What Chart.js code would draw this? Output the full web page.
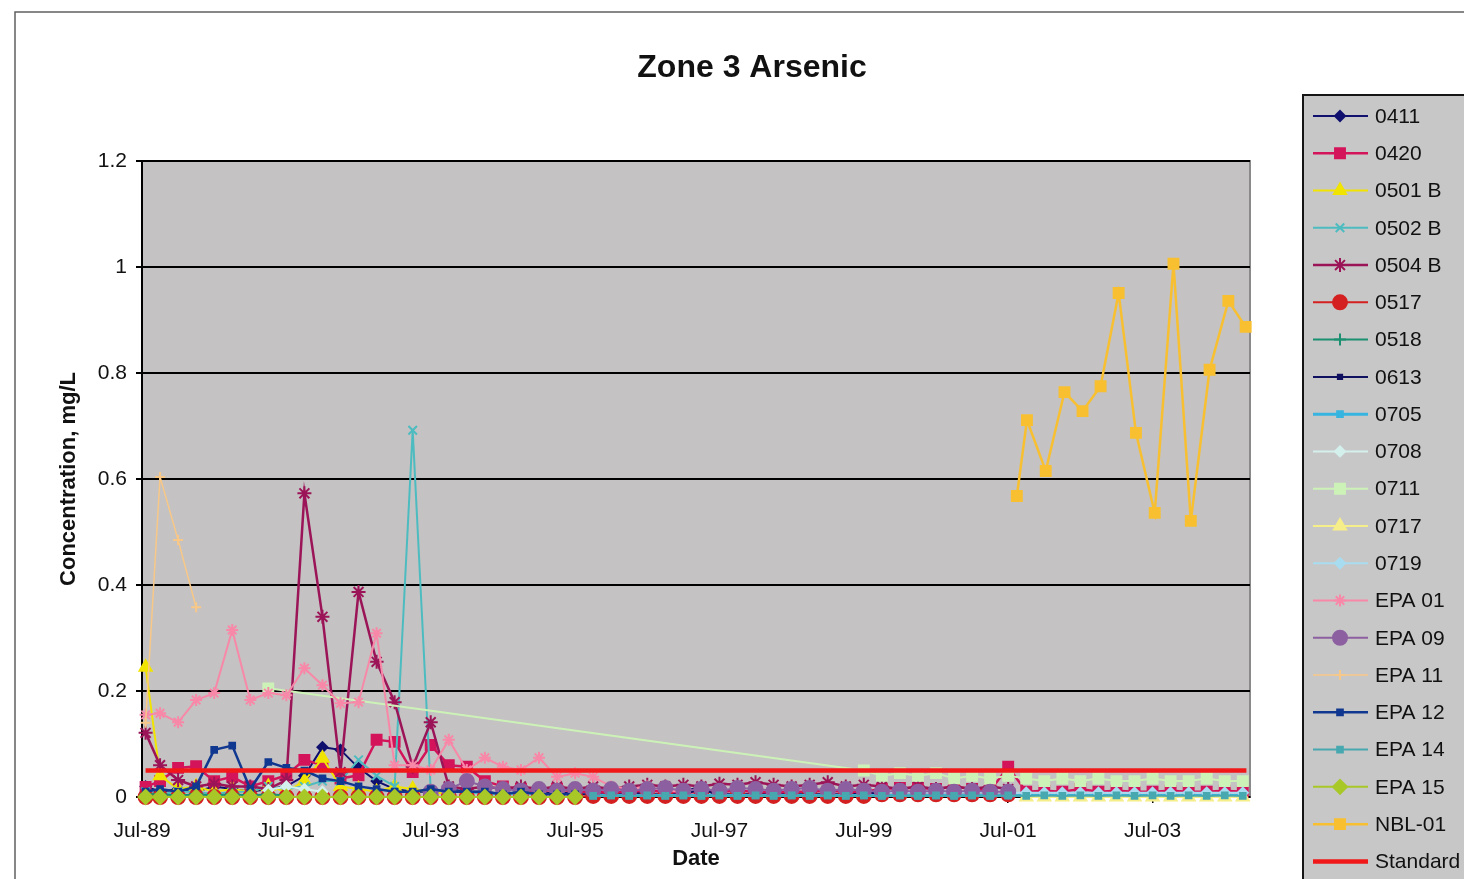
<!DOCTYPE html>
<html>
<head>
<meta charset="utf-8">
<title>Zone 3 Arsenic</title>
<script src="https://cdn.jsdelivr.net/npm/chart.js@4.4.1/dist/chart.umd.min.js"></script>
<style>
  html, body { margin: 0; padding: 0; background: #fff; overflow: hidden; }
  #wrap { position: relative; width: 1464px; height: 879px; }
</style>
</head>
<body>
<div id="wrap"><canvas id="myChart"></canvas></div>
<script>
// sample dates (decimal years)
const qEarly = [1989.55, 1989.75, 1990, 1990.25, 1990.5, 1990.75, 1991, 1991.25, 1991.5, 1991.75, 1992, 1992.25, 1992.5,
  1992.75, 1993, 1993.25, 1993.5, 1993.75, 1994, 1994.25, 1994.5, 1994.75, 1995, 1995.25, 1995.5];
const qLate = [1995.75, 1996, 1996.25, 1996.5, 1996.75, 1997, 1997.25, 1997.5, 1997.75, 1998, 1998.25, 1998.5,
  1998.75, 1999, 1999.25, 1999.5, 1999.75, 2000, 2000.25, 2000.5, 2000.75, 2001, 2001.25, 2001.5];
const qRecent = [2001.75, 2002, 2002.25, 2002.5, 2002.75, 2003, 2003.25, 2003.5, 2003.75, 2004, 2004.25, 2004.5, 2004.75];

// x tick positions and labels
const xTicks = [1989.5, 1991.5, 1993.5, 1995.5, 1997.5, 1999.5, 2001.5, 2003.5];
const xTickLabels = ['Jul-89', 'Jul-91', 'Jul-93', 'Jul-95', 'Jul-97', 'Jul-99', 'Jul-01', 'Jul-03'];
const yTicks = [0, 0.2, 0.4, 0.6, 0.8, 1, 1.2];

// concentrations, mg/L
const v0411 = [0.02, 0.01, 0.015, 0.01, 0.02, 0.015, 0.01, 0.015, 0.02, 0.04, 0.094, 0.089, 0.055, 0.03, 0.015, 0.01,
  0.01, 0.015, 0.01, 0.01, 0.005, 0.01, 0.005, 0.01, 0.005,
  0.005, 0.005, 0.01, 0.005, 0.005, 0.01, 0.02, 0.005, 0.005, 0.005, 0.01, 0.005, 0.005, 0.005, 0.005, 0.01,
  0.005, 0.005, 0.005, 0.005, 0.005, 0.01, 0.005, 0.005];
const v0420 = [0.019, 0.03, 0.055, 0.058, 0.03, 0.038, 0.02, 0.03, 0.041, 0.07, 0.06, 0.035, 0.041, 0.108, 0.104, 0.047,
  0.098, 0.06, 0.057, 0.03, 0.02, 0.015, 0.01, 0.015, 0.01,
  0.01, 0.008, 0.01, 0.012, 0.01, 0.008, 0.01, 0.01, 0.012, 0.01, 0.008, 0.01, 0.01, 0.012, 0.01, 0.01,
  0.015, 0.017, 0.017, 0.015, 0.02, 0.015, 0.012, 0.057,
  0.01, 0.012, 0.01, 0.015, 0.01, 0.012, 0.01, 0.01, 0.012, 0.01, 0.01, 0.012, 0.01];
const v0501B = [0.245, 0.04, 0.015, 0.02, 0.01, 0.015, 0.01, 0.02, 0.01, 0.03, 0.073, 0.02, 0.015, 0.01, 0.02, 0.015, 0.01, 0.005];
const v0502B = [0.01, 0.005, 0.01, 0.01, 0.005, 0.01, 0.01, 0.02, 0.015, 0.02, 0.03, 0.03, 0.07, 0.04, 0.02, 0.692,
  0.013, 0.01, 0.01, 0.005, 0.005, 0.005, 0.005, 0.005, 0.005];
const v0504B = [0.121, 0.06, 0.032, 0.02, 0.025, 0.02, 0.02, 0.015, 0.032, 0.573, 0.34, 0.047, 0.387, 0.255, 0.179, 0.057,
  0.141, 0.02, 0.015, 0.02, 0.015, 0.02, 0.015, 0.02, 0.015,
  0.02, 0.015, 0.02, 0.023, 0.02, 0.023, 0.02, 0.025, 0.023, 0.028, 0.023, 0.02, 0.023, 0.028, 0.02, 0.023,
  0.02, 0.015, 0.02, 0.015, 0.02, 0.015, 0.02, 0.015];
const v0517 = [0, 0, 0, 0, 0, 0, 0, 0, 0, 0, 0, 0, 0, 0, 0, 0, 0, 0, 0, 0, 0, 0, 0, 0, 0,
  0.002, 0.002, 0.002, 0.002, 0.002, 0.002, 0.002, 0.002, 0.002, 0.002, 0.002, 0.002, 0.002, 0.002, 0.002, 0.002,
  0.005, 0.005, 0.005, 0.005, 0.005, 0.005, 0.005, 0.005];
const v0518 = [0.005, 0.005, 0.003, 0.005, 0.003, 0.005, 0.003, 0.005, 0.003];
const v0613 = [0.003, 0.003, 0.005, 0.003, 0.003, 0.005, 0.015, 0.003, 0.003, 0.005, 0.003, 0.003, 0.005, 0.003, 0.003,
  0.005, 0.003, 0.003, 0.005, 0.003, 0.003, 0.005, 0.003, 0.003];
const v0705 = [0.003, 0.003, 0.003, 0.003, 0.003, 0.003, 0.003, 0.003, 0.003, 0.003, 0.003, 0.003, 0.003, 0.003, 0.003,
  0.003, 0.003, 0.003, 0.003, 0.003, 0.003, 0.003, 0.003, 0.003,
  0.003, 0.003, 0.003, 0.003, 0.003, 0.003, 0.003, 0.003, 0.003, 0.003, 0.003, 0.003, 0.003];
const d0708 = [1991.25, 1991.5, 1991.75, 1992];
const v0708 = [0.013, 0.02, 0.015, 0.01];
const d0711 = [1991.25, 1999.5, 1999.75, 2000, 2000.25, 2000.5, 2000.75, 2001, 2001.25, 2001.5, 2001.75, 2002, 2002.25,
  2002.5, 2002.75, 2003, 2003.25, 2003.5, 2003.75, 2004, 2004.25, 2004.5, 2004.75];
const v0711 = [0.205, 0.05, 0.04, 0.045, 0.04, 0.045, 0.035, 0.04, 0.035, 0.04, 0.035, 0.03, 0.035, 0.03, 0.035, 0.03,
  0.03, 0.035, 0.03, 0.03, 0.035, 0.03, 0.03];
const v0717 = [0, 0, 0, 0, 0, 0, 0, 0, 0, 0, 0, 0, 0];
const v0719 = [0.008, 0.008, 0.008, 0.008, 0.008, 0.008, 0.008, 0.008, 0.008, 0.008, 0.008, 0.008, 0.008, 0.008,
  0.008, 0.008, 0.008, 0.008, 0.008, 0.008, 0.008];
const vEPA01 = [0.155, 0.158, 0.141, 0.183, 0.196, 0.315, 0.183, 0.196, 0.192, 0.243, 0.211, 0.177, 0.179, 0.309, 0.06,
  0.06, 0.051, 0.108, 0.051, 0.074, 0.057, 0.051, 0.074, 0.038, 0.045,
  0.038, 0.02, 0.015, 0.02, 0.012, 0.01];
const vEPA09 = [0.01, 0.015, 0.03, 0.02, 0.015, 0.012, 0.015, 0.012, 0.015,
  0.012, 0.015, 0.012, 0.015, 0.017, 0.012, 0.015, 0.012, 0.017, 0.015, 0.012, 0.015, 0.017, 0.012, 0.015, 0.012,
  0.01, 0.012, 0.01, 0.012, 0.01, 0.012, 0.01, 0.01];
const dEPA11 = [1989.55, 1989.75, 1990, 1990.25];
const vEPA11 = [0.14, 0.604, 0.485, 0.358];
const vEPA12 = [0.01, 0.015, 0.01, 0.02, 0.089, 0.097, 0.015, 0.066, 0.055, 0.05, 0.035, 0.03, 0.02, 0.015, 0.01, 0.01,
  0.015, 0.01, 0.01, 0.01, 0.005, 0.01, 0.005, 0.005, 0.005];
const vEPA14 = [0.002, 0.003, 0.002, 0.003, 0.002, 0.003, 0.002, 0.003, 0.002, 0.003, 0.002, 0.003, 0.002, 0.003, 0.002,
  0.003, 0.002, 0.003, 0.002, 0.003, 0.002, 0.003, 0.002, 0.003,
  0.002, 0.003, 0.002, 0.003, 0.002, 0.003, 0.002, 0.003, 0.002, 0.003, 0.002, 0.003, 0.002];
const vEPA15 = [0, 0, 0, 0, 0, 0, 0, 0, 0, 0, 0, 0, 0, 0, 0, 0, 0, 0, 0, 0, 0, 0, 0, 0, 0];
const dNBL = [2001.62, 2001.76, 2002.02, 2002.28, 2002.53, 2002.78, 2003.03, 2003.27, 2003.53, 2003.79, 2004.03,
  2004.29, 2004.55, 2004.79];
const vNBL = [0.568, 0.711, 0.615, 0.764, 0.728, 0.775, 0.951, 0.687, 0.536, 1.006, 0.521, 0.806, 0.936, 0.887];
const dStandard = [1989.55, 2004.8];
const vStandard = [0.05, 0.05];

const FONT = '"Liberation Sans", Arial, sans-serif';

function pts(dates, vals) {
  return vals.map((v, i) => ({ x: dates[i], y: v }));
}

// series: label, dates, values, colour, marker, marker radius, line width
const series = [
  ['0411', [...qEarly, ...qLate], v0411, '#10106e', 'rectRot', 5, 2],
  ['0420', [...qEarly, ...qLate, ...qRecent], v0420, '#d4145a', 'rect', 7, 2.5],
  ['0501 B', qEarly.slice(0, 18), v0501B, '#f0e400', 'triangle', 7, 2],
  ['0502 B', qEarly, v0502B, '#4cbcc0', 'crossRot', 6, 2],
  ['0504 B', [...qEarly, ...qLate], v0504B, '#9c1458', 'star', 7, 2.5],
  ['0517', [...qEarly, ...qLate], v0517, '#d42020', 'circle', 7, 2],
  ['0518', qEarly.slice(0, 9), v0518, '#1a9070', 'cross', 6, 2],
  ['0613', qLate, v0613, '#101060', 'rect', 3, 2],
  ['0705', [...qLate, ...qRecent], v0705, '#38b4e0', 'rect', 4, 3],
  ['0708', d0708, v0708, '#d4f0ec', 'rectRot', 5, 2],
  ['0711', d0711, v0711, '#cdf2b8', 'rect', 7, 2],
  ['0717', qRecent, v0717, '#f6ee88', 'triangle', 7, 2],
  ['0719', [...qLate.slice(16), ...qRecent], v0719, '#a8dcf0', 'rectRot', 5, 2],
  ['EPA 01', [...qEarly, ...qLate.slice(0, 6)], vEPA01, '#f888a8', 'star', 6, 2],
  ['EPA 09', [...qEarly.slice(16), ...qLate], vEPA09, '#8c60a0', 'circle', 7, 2],
  ['EPA 11', dEPA11, vEPA11, '#f8c888', 'cross', 5, 1.5],
  ['EPA 12', qEarly, vEPA12, '#103890', 'rect', 4, 2.5],
  ['EPA 14', [...qLate, ...qRecent], vEPA14, '#48a8b0', 'rect', 4, 2],
  ['EPA 15', qEarly, vEPA15, '#a8c828', 'rectRot', 7, 2],
  ['NBL-01', dNBL, vNBL, '#f8c030', 'rect', 7, 2.5],
  ['Standard', dStandard, vStandard, '#f01818', false, 0, 4.5],
];

const datasets = series.map((s, i) => ({
  label: s[0],
  data: pts(s[1], s[2]),
  borderColor: s[3],
  backgroundColor: s[3],
  pointBackgroundColor: s[3],
  pointBorderColor: s[3],
  pointBorderWidth: 2,
  pointStyle: s[4],
  pointRadius: s[5],
  borderWidth: s[6],
  tension: 0,
  clip: false,
  order: series.length - i,
}));

// background, frame and plot area
const framePlugin = {
  id: 'frame',
  beforeDraw(chart) {
    const { ctx, chartArea: a } = chart;
    ctx.save();
    ctx.fillStyle = '#ffffff';
    ctx.fillRect(0, 0, chart.width, chart.height);
    ctx.strokeStyle = '#606060';
    ctx.lineWidth = 1.5;
    ctx.beginPath();
    ctx.moveTo(15, chart.height);
    ctx.lineTo(15, 12);
    ctx.lineTo(chart.width, 12);
    ctx.stroke();
    ctx.fillStyle = '#c4c2c2';
    ctx.fillRect(a.left, a.top, a.right - a.left, a.bottom - a.top);
    ctx.strokeStyle = '#8a8a8a';
    ctx.lineWidth = 2;
    ctx.strokeRect(a.left, a.top, a.right - a.left, a.bottom - a.top);
    ctx.restore();
  },
  afterDraw(chart) {
    const ctx = chart.ctx;
    ctx.save();
    ctx.fillStyle = '#111';
    ctx.font = 'bold 32px ' + FONT;
    ctx.textAlign = 'center';
    ctx.textBaseline = 'middle';
    ctx.fillText('Zone 3 Arsenic', 752, 68);
    ctx.restore();
  }
};

// legend box on the right, line + marker like the spreadsheet
const legendPlugin = {
  id: 'sideLegend',
  afterDraw(chart) {
    const ctx = chart.ctx;
    ctx.save();
    ctx.fillStyle = '#c8c7c7';
    ctx.fillRect(1303, 95, 220, 820);
    ctx.strokeStyle = '#151515';
    ctx.lineWidth = 2;
    ctx.strokeRect(1303, 95, 220, 820);
    chart.data.datasets.forEach((ds, i) => {
      const y = 116 + i * 37.27;
      ctx.strokeStyle = ds.borderColor;
      ctx.lineWidth = ds.borderWidth;
      ctx.beginPath();
      ctx.moveTo(1313, y);
      ctx.lineTo(1368, y);
      ctx.stroke();
      if (ds.pointStyle && ds.pointRadius > 0) {
        ctx.fillStyle = ds.pointBackgroundColor;
        ctx.strokeStyle = ds.pointBorderColor;
        ctx.lineWidth = ds.pointBorderWidth;
        Chart.helpers.drawPoint(ctx, {
          pointStyle: ds.pointStyle, radius: ds.pointRadius,
          borderWidth: ds.pointBorderWidth, rotation: 0
        }, 1340, y);
      }
      ctx.fillStyle = '#111';
      ctx.font = '21px ' + FONT;
      ctx.textAlign = 'left';
      ctx.textBaseline = 'middle';
      ctx.fillText(ds.label, 1375, y + 1);
    });
    ctx.restore();
  }
};

const ctx = document.getElementById('myChart');
new Chart(ctx, {
  type: 'line',
  data: { datasets: datasets },
  plugins: [framePlugin, legendPlugin],
  options: {
    responsive: true,
    maintainAspectRatio: false,
    animation: false,
    layout: { padding: { top: 161, right: 214, left: 0, bottom: 0 } },
    plugins: {
      legend: { display: false },
      title: { display: false },
      tooltip: { enabled: false },
    },
    scales: {
      x: {
        type: 'linear',
        min: 1989.5,
        max: 2004.85,
        afterBuildTicks: (scale) => { scale.ticks = xTicks.map(v => ({ value: v })); },
        afterFit: (scale) => { scale.height = 82; },
        ticks: {
          autoSkip: false,
          maxRotation: 0,
          padding: 16,
          color: '#111',
          font: { family: FONT, size: 21 },
          callback: (v, i) => xTickLabels[i],
        },
        grid: { drawOnChartArea: false, color: '#000', tickLength: 6, lineWidth: 1.5 },
        border: { color: '#000', width: 2 },
        title: {
          display: true, text: 'Date', color: '#111',
          font: { family: FONT, size: 22, weight: 'bold' },
          padding: { top: 0, bottom: 7 },
        },
      },
      y: {
        min: 0,
        max: 1.2,
        afterBuildTicks: (scale) => { scale.ticks = yTicks.map(v => ({ value: v })); },
        afterFit: (scale) => { scale.width = 142; },
        ticks: {
          padding: 9,
          color: '#111',
          font: { family: FONT, size: 21 },
          callback: (v) => String(+v.toFixed(1)),
        },
        grid: { color: '#000', lineWidth: 2, tickLength: 6 },
        border: { color: '#000', width: 2 },
        title: {
          display: true, text: 'Concentration, mg/L', color: '#111',
          font: { family: FONT, size: 22, weight: 'bold' },
          padding: { top: 56, bottom: 0 },
        },
      },
    },
  },
});
</script>
</body>
</html>
